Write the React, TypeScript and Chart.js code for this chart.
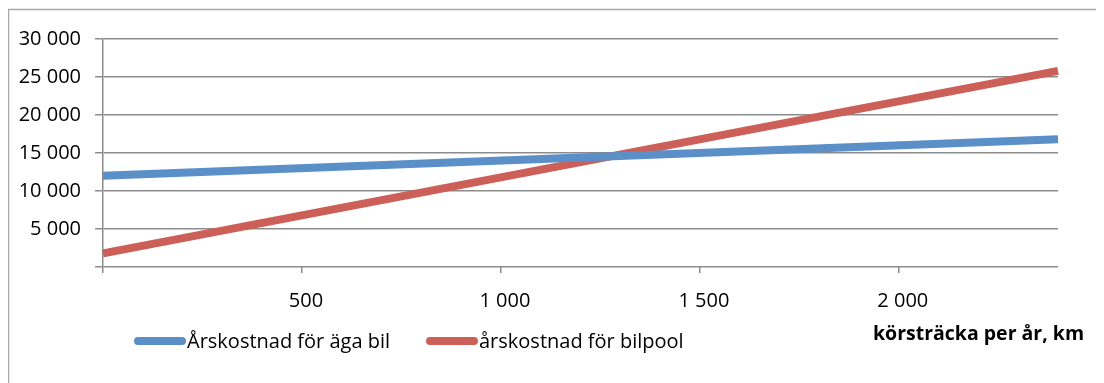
import React, { useEffect, useRef } from "react";
import { Chart, registerables } from "chart.js";

Chart.register(...registerables);

// Annual distance driven (km) and the yearly cost of each alternative (SEK)
const distanceKm = [0, 2400];
const ownCarCost = [12000, 16800];
const carPoolCost = [1800, 25800];

const seriesLabels = ["Årskostnad för äga bil", "årskostnad för bilpool"];
const seriesColors = ["#5a8fc8", "#cc5f57"];
const xAxisTitle = "körsträcka per år, km";

const xTicks = [0, 500, 1000, 1500, 2000];
const yTicks = [0, 5000, 10000, 15000, 20000, 25000, 30000];

const FONT = "'Open Sans', Lato, sans-serif";
const FONT_SIZE = 20;
const GRID = "#8c8c8c";

const formatThousands = (v: number) => {
  if (v === 0) return "";
  if (v < 1000) return String(v);
  return `${Math.floor(v / 1000)} ${String(v % 1000).padStart(3, "0")}`;
};

// Frame, legend and axis title drawn on the canvas
const decorations = {
  id: "decorations",
  beforeDraw(chart: Chart) {
    const ctx = chart.ctx;
    ctx.save();
    ctx.strokeStyle = "#a8a8a8";
    ctx.lineWidth = 1.5;
    ctx.beginPath();
    ctx.moveTo(0.5, chart.height);
    ctx.lineTo(0.5, 1.5);
    ctx.lineTo(chart.width, 1.5);
    ctx.stroke();
    ctx.restore();
  },
  afterDraw(chart: Chart) {
    const ctx = chart.ctx;
    ctx.save();
    const legendY = 333;
    const items = [
      { x: 126, label: seriesLabels[0], color: seriesColors[0] },
      { x: 418, label: seriesLabels[1], color: seriesColors[1] },
    ];
    ctx.font = `${FONT_SIZE}px ${FONT}`;
    ctx.textBaseline = "middle";
    ctx.fillStyle = "#000";
    for (const it of items) {
      ctx.strokeStyle = it.color;
      ctx.lineWidth = 8;
      ctx.lineCap = "round";
      ctx.beginPath();
      ctx.moveTo(it.x + 4, legendY);
      ctx.lineTo(it.x + 48, legendY);
      ctx.stroke();
      ctx.fillText(it.label, it.x + 53, legendY + 1);
    }
    ctx.font = `bold 19.5px ${FONT}`;
    ctx.fillText(xAxisTitle, 865, 326);
    ctx.restore();
  },
};

export default function App() {
  const canvasRef = useRef<HTMLCanvasElement | null>(null);

  useEffect(() => {
    if (!canvasRef.current) return;
    const chart = new Chart(canvasRef.current, {
      type: "scatter",
      data: {
        datasets: [ownCarCost, carPoolCost].map((vals, i) => ({
          label: seriesLabels[i],
          data: distanceKm.map((x, j) => ({ x, y: vals[j] })),
          showLine: true,
          borderColor: seriesColors[i],
          backgroundColor: seriesColors[i],
          borderWidth: 8,
          borderCapStyle: "butt" as const,
          pointRadius: 0,
          pointHoverRadius: 0,
          clip: false as any,
        })),
      },
      options: {
        animation: false,
        responsive: false,
        maintainAspectRatio: false,
        devicePixelRatio: 1,
        layout: { padding: { top: 31, right: 46, left: 0, bottom: 0 } },
        plugins: { legend: { display: false }, tooltip: { enabled: false } },
        scales: {
          x: {
            type: "linear",
            min: 0,
            max: 2400,
            afterBuildTicks: (scale: any) => {
              scale.ticks = xTicks.map((value) => ({ value }));
            },
            afterFit: (scale: any) => {
              scale.height = 116;
            },
            grid: {
              drawOnChartArea: false,
              drawTicks: true,
              tickLength: 6,
              color: GRID,
              lineWidth: 1.5,
            },
            border: { display: false },
            ticks: {
              includeBounds: false,
              padding: 16,
              labelOffset: 4,
              maxRotation: 0,
              autoSkip: false,
              color: "#000",
              font: { family: FONT, size: FONT_SIZE },
              callback: (v: any) => formatThousands(Number(v)),
            },
          },
          y: {
            type: "linear",
            min: 0,
            max: 30000,
            afterBuildTicks: (scale: any) => {
              scale.ticks = yTicks.map((value) => ({ value }));
            },
            afterFit: (scale: any) => {
              scale.width = 95;
            },
            grid: {
              drawOnChartArea: true,
              drawTicks: true,
              tickLength: 8,
              color: GRID,
              lineWidth: 1.5,
            },
            border: { display: true, color: GRID, width: 1.5 },
            ticks: {
              padding: 14,
              color: "#000",
              font: { family: FONT, size: FONT_SIZE },
              callback: (v: any) => formatThousands(Number(v)),
            },
          },
        },
      },
      plugins: [decorations],
    });
    return () => chart.destroy();
  }, []);

  return (
    <div style={{ width: 1096, height: 375 }}>
      <canvas ref={canvasRef} width={1096} height={375} style={{ display: "block" }} />
    </div>
  );
}
